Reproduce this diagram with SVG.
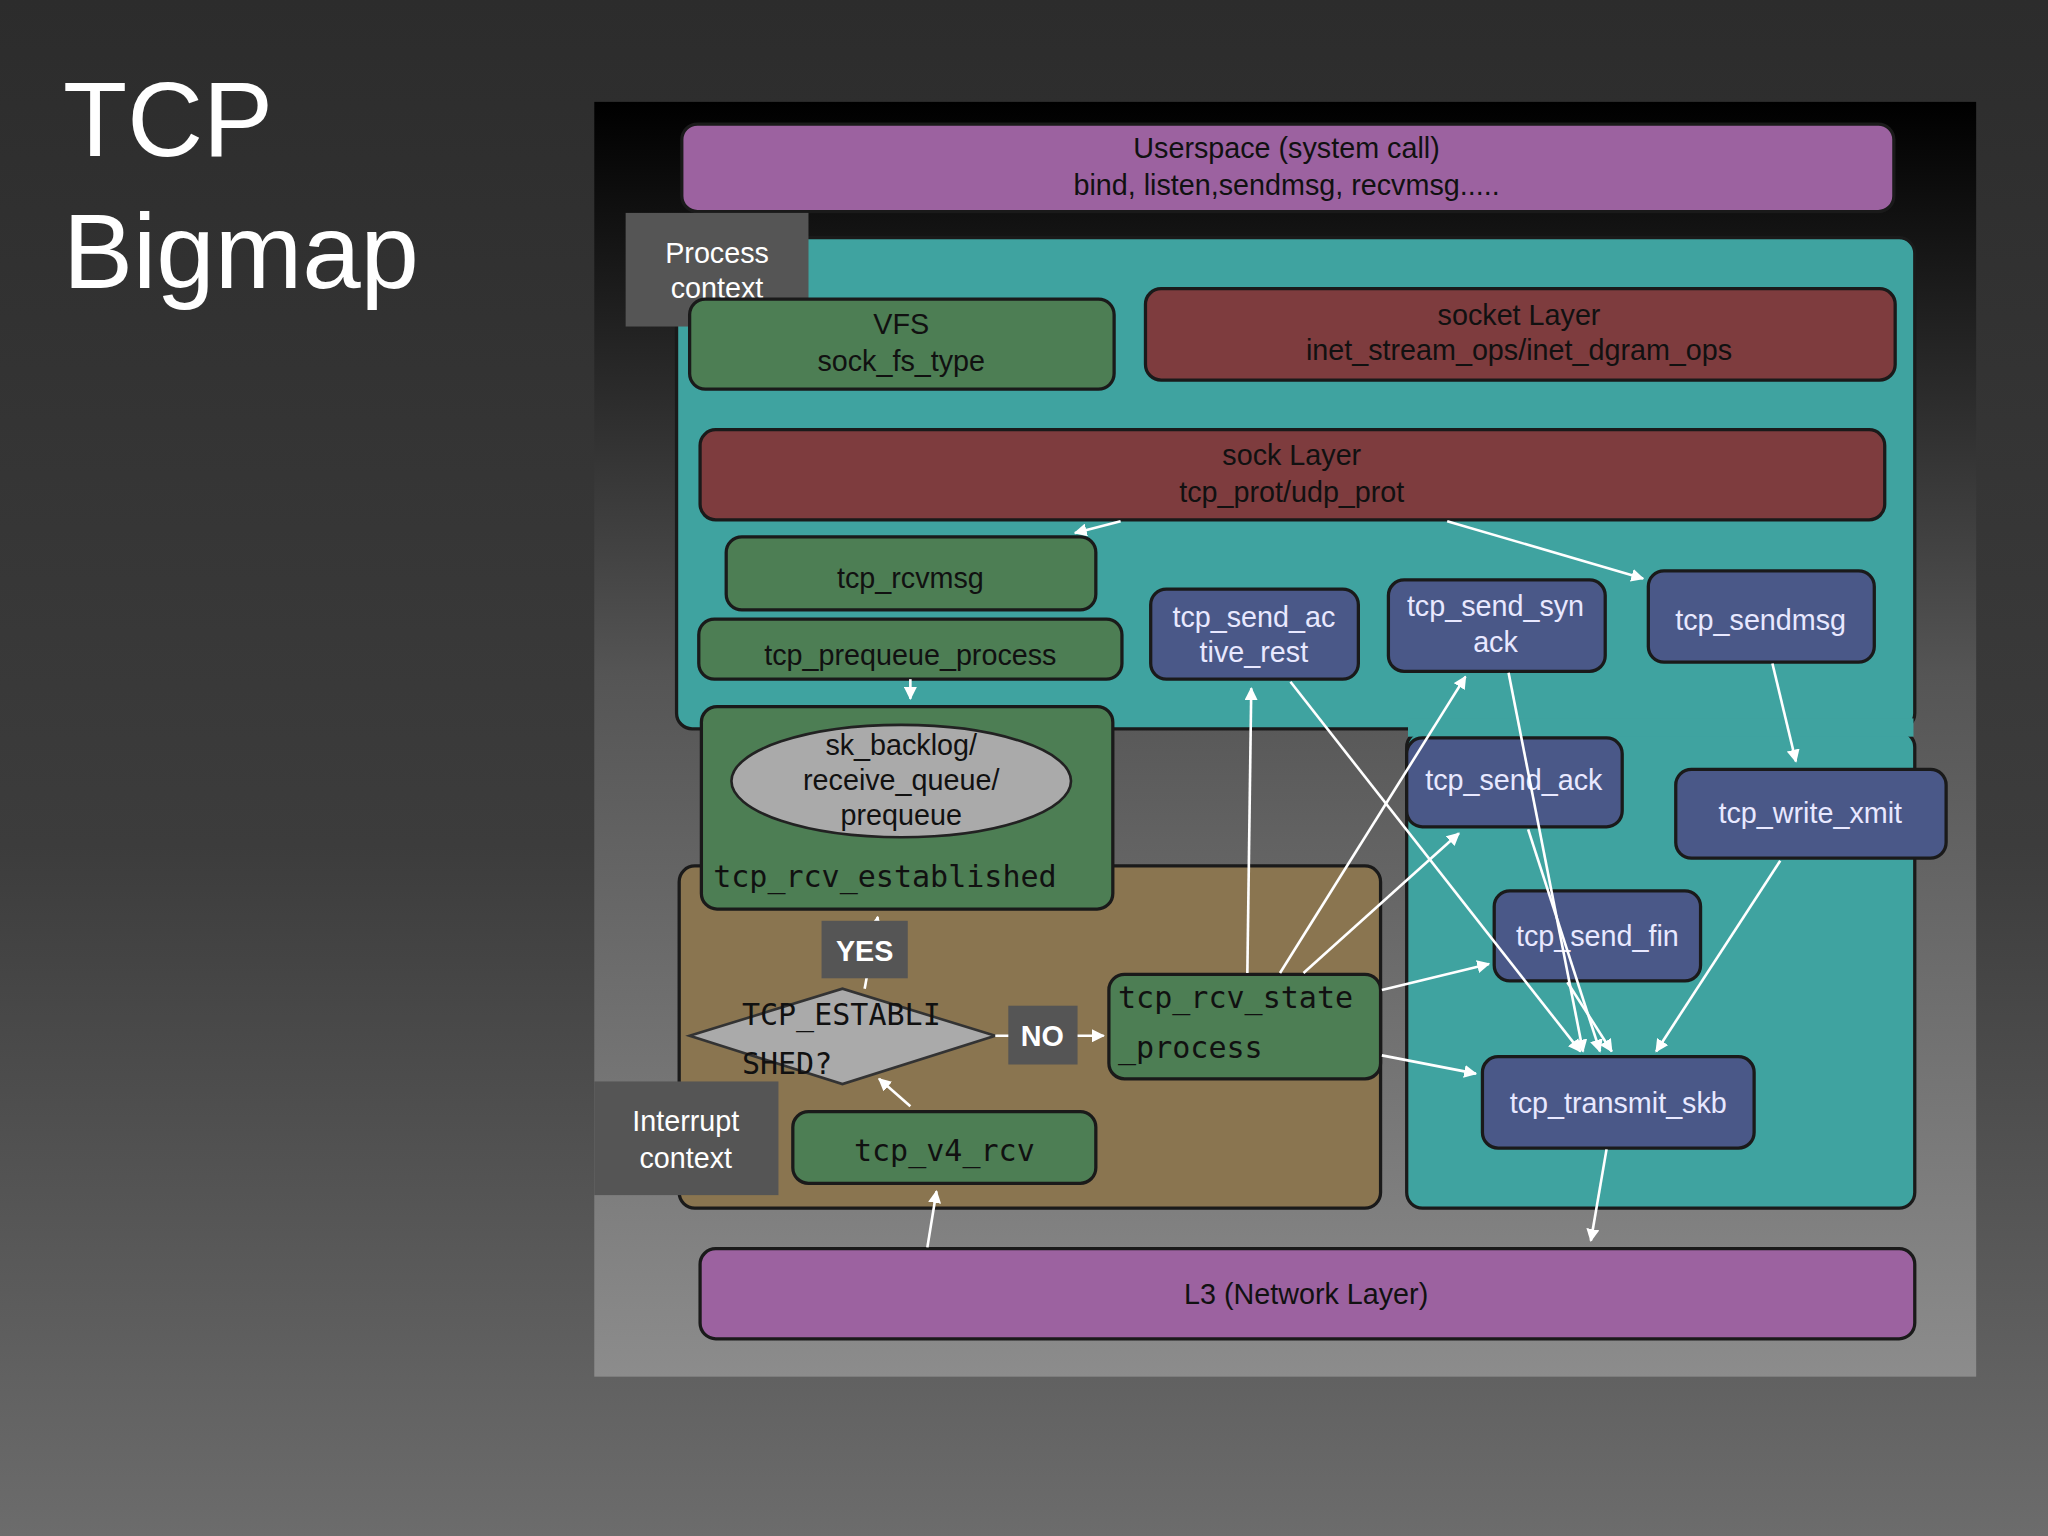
<svg xmlns="http://www.w3.org/2000/svg" width="2048" height="1536" viewBox="0 0 2048 1536">
<defs>
<linearGradient id="bg" x1="0" y1="0" x2="0" y2="1"><stop offset="0" stop-color="#2c2c2c"/><stop offset="0.55" stop-color="#3c3c3c"/><stop offset="1" stop-color="#6c6c6c"/></linearGradient>
<linearGradient id="panel" x1="0" y1="0" x2="0" y2="1"><stop offset="0" stop-color="#000"/><stop offset="0.45" stop-color="#555"/><stop offset="1" stop-color="#8c8c8c"/></linearGradient>
<marker id="ah" viewBox="0 0 10 10" refX="9" refY="5" markerWidth="5" markerHeight="5" orient="auto"><path d="M0,0 L10,5 L0,10 z" fill="#fff"/></marker>
<style>
.n{stroke:#1a1a1a;stroke-width:2.5}
.pu{fill:#9c62a0}.rd{fill:#7e3c3e}.gr{fill:#4d7e54}.bl{fill:#4a5888}
.t{font-family:"Liberation Sans",Arial,sans-serif;font-size:22px;fill:#111;text-anchor:middle}
.tw{font-family:"Liberation Sans",Arial,sans-serif;font-size:22px;fill:#e8e8ff;text-anchor:middle}
.m{font-family:"DejaVu Sans Mono","Liberation Mono",monospace;font-size:23px;fill:#111}
.lab{fill:#555}
.lt{font-family:"Liberation Sans",Arial,sans-serif;font-size:22px;fill:#fff;text-anchor:middle}
.c line{stroke:#fff;stroke-width:2;marker-end:url(#ah)}
</style>
</defs>
<rect width="2048" height="1536" fill="url(#bg)"/>
<text x="63" y="156" font-family="Liberation Sans,Arial,sans-serif" font-size="105" fill="#fff">TCP</text>
<text x="63" y="288" font-family="Liberation Sans,Arial,sans-serif" font-size="105" fill="#fff">Bigmap</text>
<g transform="scale(1.30612)">
<rect x="455" y="78" width="1058" height="976" fill="url(#panel)"/>
<g id="userspace"><rect class="n pu" x="522" y="95" width="928" height="67" rx="12"/><text class="t" x="985" y="121">Userspace (system call)</text><text class="t" x="985" y="149">bind, listen,sendmsg, recvmsg.....</text></g>
<g id="regions">
<rect class="n" x="518" y="182" width="948" height="376" rx="12" fill="#3fa3a0"/>
<rect class="n" x="1077" y="560" width="389" height="365" rx="12" fill="#3fa3a0"/>
<rect class="n" x="520" y="663" width="537" height="262" rx="12" fill="#8a7550"/>
<rect x="1078" y="550" width="387" height="14" fill="#3fa3a0"/>
</g>
<g id="proc"><rect class="lab" x="479" y="163" width="140" height="87"/><text class="lt" x="549" y="201">Process</text><text class="lt" x="549" y="228">context</text></g>
<g id="vfs"><rect class="n gr" x="528" y="229" width="325" height="69" rx="12"/><text class="t" x="690" y="256">VFS</text><text class="t" x="690" y="284">sock_fs_type</text></g>
<g id="socketlayer"><rect class="n rd" x="877" y="221" width="574" height="70" rx="12"/><text class="t" x="1163" y="249">socket Layer</text><text class="t" x="1163" y="276">inet_stream_ops/inet_dgram_ops</text></g>
<g id="socklayer"><rect class="n rd" x="536" y="329" width="907" height="69" rx="12"/><text class="t" x="989" y="356">sock Layer</text><text class="t" x="989" y="384">tcp_prot/udp_prot</text></g>
<g id="rcvmsg"><rect class="n gr" x="556" y="411" width="283" height="56" rx="12"/><text class="t" x="697" y="450">tcp_rcvmsg</text></g>
<g id="prequeue"><rect class="n gr" x="535" y="474" width="324" height="46" rx="12"/><text class="t" x="697" y="509">tcp_prequeue_process</text></g>
<g id="established"><rect class="n gr" x="537" y="541" width="315" height="155" rx="12"/><ellipse cx="690" cy="598" rx="130" ry="43" fill="#aaa" stroke="#222" stroke-width="2"/><text class="t" x="690" y="578">sk_backlog/</text><text class="t" x="690" y="605">receive_queue/</text><text class="t" x="690" y="632">prequeue</text><text class="m" x="546" y="679">tcp_rcv_established</text></g>
<g id="activerest"><rect class="n bl" x="881" y="451" width="159" height="69" rx="12"/><text class="tw" x="960" y="480">tcp_send_ac</text><text class="tw" x="960" y="507">tive_rest</text></g>
<g id="synack"><rect class="n bl" x="1063" y="444" width="166" height="70" rx="12"/><text class="tw" x="1145" y="472">tcp_send_syn</text><text class="tw" x="1145" y="499">ack</text></g>
<g id="sendmsg"><rect class="n bl" x="1262" y="437" width="173" height="70" rx="12"/><text class="tw" x="1348" y="482">tcp_sendmsg</text></g>
<g id="sendack"><rect class="n bl" x="1077" y="565" width="165" height="68" rx="12"/><text class="tw" x="1159" y="605">tcp_send_ack</text></g>
<g id="writexmit"><rect class="n bl" x="1283" y="589" width="207" height="68" rx="12"/><text class="tw" x="1386" y="630">tcp_write_xmit</text></g>
<g id="sendfin"><rect class="n bl" x="1144" y="682" width="158" height="69" rx="12"/><text class="tw" x="1223" y="724">tcp_send_fin</text></g>
<g id="transmit"><rect class="n bl" x="1135" y="809" width="208" height="70" rx="12"/><text class="tw" x="1239" y="852">tcp_transmit_skb</text></g>
<g id="stateproc"><rect class="n gr" x="849" y="746" width="208" height="80" rx="12"/><text class="m" x="856" y="772">tcp_rcv_state</text><text class="m" x="856" y="810">_process</text></g>
<g id="v4rcv"><rect class="n gr" x="607" y="851" width="232" height="55" rx="12"/><text class="m" x="723" y="889" text-anchor="middle">tcp_v4_rcv</text></g>
<g id="l3"><rect class="n pu" x="536" y="956" width="930" height="69" rx="12"/><text class="t" x="1000" y="998">L3 (Network Layer)</text></g>
<g id="intr"><rect class="lab" x="455" y="828" width="141" height="87"/><text class="lt" x="525" y="866">Interrupt</text><text class="lt" x="525" y="894">context</text></g>
<g id="decision"><polygon points="528,793 645,757 762,793 645,830" fill="#aaa" stroke="#333" stroke-width="2"/><text class="m" x="568" y="785">TCP_ESTABLI</text><text class="m" x="568" y="822">SHED?</text></g>
<g class="c" id="connectors">
<line x1="858" y1="399" x2="823" y2="408"/>
<line x1="1108" y1="399" x2="1258" y2="443"/>
<line x1="697" y1="520" x2="697" y2="535"/>
<line x1="1357" y1="508" x2="1375" y2="583"/>
<line x1="1363" y1="659" x2="1268" y2="805"/>
<line x1="1155" y1="515" x2="1212" y2="805"/>
<line x1="988" y1="522" x2="1210" y2="805"/>
<line x1="1170" y1="635" x2="1225" y2="805"/>
<line x1="1200" y1="752" x2="1234" y2="805"/>
<line x1="955" y1="745" x2="958" y2="527"/>
<line x1="980" y1="745" x2="1122" y2="518"/>
<line x1="998" y1="745" x2="1117" y2="638"/>
<line x1="1058" y1="758" x2="1140" y2="738"/>
<line x1="1058" y1="808" x2="1130" y2="822"/>
<line x1="1230" y1="880" x2="1218" y2="950"/>
<line x1="710" y1="955" x2="717" y2="912"/>
<line x1="697" y1="847" x2="673" y2="826"/>
<line x1="762" y1="793" x2="845" y2="793"/>
<line x1="662" y1="757" x2="672" y2="702"/>
</g>
<g id="yes"><rect class="lab" x="629" y="705" width="66" height="44"/><text class="lt" x="662" y="736" font-weight="bold">YES</text></g>
<g id="no"><rect class="lab" x="772" y="770" width="53" height="45"/><text class="lt" x="798" y="801" font-weight="bold">NO</text></g>
</g>
</svg>
